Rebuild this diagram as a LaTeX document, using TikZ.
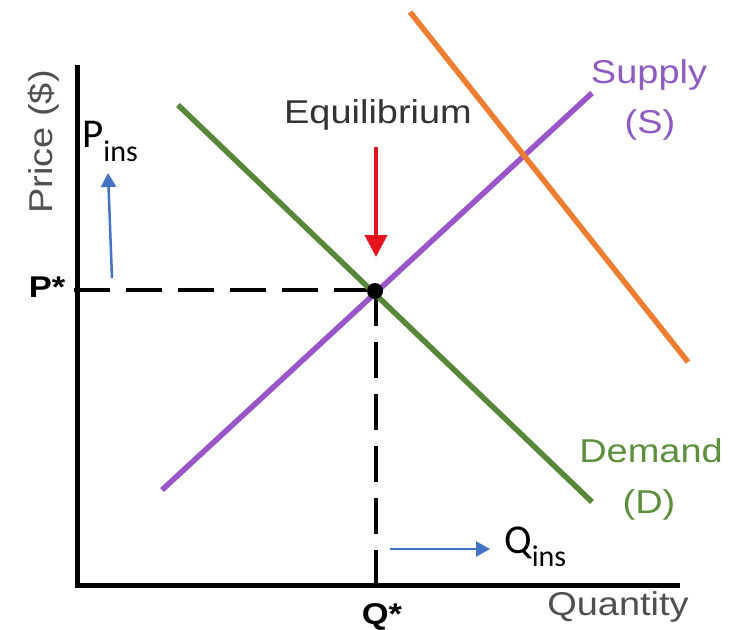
\documentclass[tikz,border=0pt]{standalone}
\usepackage{fontspec}
\setmainfont{Liberation Sans}
\newfontfamily\lab[FakeStretch=1.15]{Liberation Sans}
\newfontfamily\calib{Carlito}
\usetikzlibrary{arrows.meta}
\definecolor{dgreen}{HTML}{58873A}
\definecolor{dpurple}{HTML}{9A55C9}
\definecolor{dorange}{HTML}{ED7D31}
\definecolor{dred}{HTML}{E3141C}
\definecolor{dblue}{HTML}{4472C4}
\definecolor{tgray}{HTML}{505050}
\definecolor{tpurple}{HTML}{8E5CC0}
\definecolor{tgreen}{HTML}{5E8F3E}
\tikzset{
  lbl/.style={inner sep=0pt, anchor=base, font=\lab\fontsize{33}{40}\selectfont},
  blbl/.style={inner sep=0pt, anchor=base, font=\lab\bfseries\fontsize{30}{36}\selectfont},
  curve/.style={line width=5.5pt},
  axisline/.style={line width=5pt, black},
  guide/.style={line width=4pt, black, dash pattern=on 36pt off 16pt},
  bluearrow/.style={line width=2.5pt, dblue, -{Triangle[width=15pt,length=14pt]}},
  redarrow/.style={line width=4pt, dred, -{Triangle[width=22pt,length=22pt]}},
  ins/.style={inner sep=0pt, anchor=base west, font=\calib\fontsize{41}{48}\selectfont}
}
\begin{document}
\begin{tikzpicture}[x=1pt,y=-1pt]
\useasboundingbox[fill=white] (0,0) rectangle (743,629);
% coordinates
\coordinate (ytop) at (77,65);
\coordinate (orig) at (77,585);
\coordinate (xend) at (680,585);
\coordinate (pl) at (74,290);
\coordinate (qb) at (376,585);
\coordinate (d1) at (178,105);
\coordinate (d2) at (592,502);
\coordinate (s1) at (162,490);
\coordinate (s2) at (592,93);
\coordinate (o1) at (410,12);
\coordinate (o2) at (688,362);
\coordinate (r1) at (376,147);
\coordinate (r2) at (376,257);
\coordinate (b1) at (112,278);
\coordinate (b2) at (108,173);
\coordinate (c1) at (390,549);
\coordinate (c2) at (490,549);
% axes
\draw[axisline] (ytop) -- (orig) -- (xend);
% guides
\draw[guide] (pl) -- (375,290);
\draw[guide] (376,290) -- (qb);
% curves
\draw[curve, dgreen] (d1) -- (d2);
\draw[curve, dpurple] (s1) -- (s2);
\draw[curve, dorange] (o1) -- (o2);
% equilibrium dot
\node[circle, fill=black, minimum size=16pt, inner sep=0pt] (eq) at (375,291) {};
% arrows
\draw[redarrow] (r1) -- (r2);
\draw[bluearrow] (b1) -- (b2);
\draw[bluearrow] (c1) -- (c2);
% labels
\node[lbl, rotate=90, text=tgray] (price) at (52,142) {Price (\$)};
\node[lbl, text=tgray] (qty) at (618,615) {Quantity};
\node[lbl, text=black!80] (equil) at (378,123) {Equilibrium};
\node[lbl, text=tpurple] (sup) at (649,83) {Supply};
\node[lbl, text=tpurple] (sups) at (650,133) {(S)};
\node[lbl, text=tgreen] (dem) at (651,462) {Demand};
\node[lbl, text=tgreen] (demd) at (649,513) {(D)};
\node[blbl] (pstar) at (47,297) {P*};
\node[blbl] (qstar) at (382,624) {Q*};
\node[ins] (pins) at (82,147) {P\raisebox{-14pt}{\fontsize{30}{36}\selectfont ins}};
\node[ins] (qins) at (504,553) {Q\raisebox{-13pt}{\fontsize{30}{36}\selectfont ins}};
\end{tikzpicture}
\end{document}
